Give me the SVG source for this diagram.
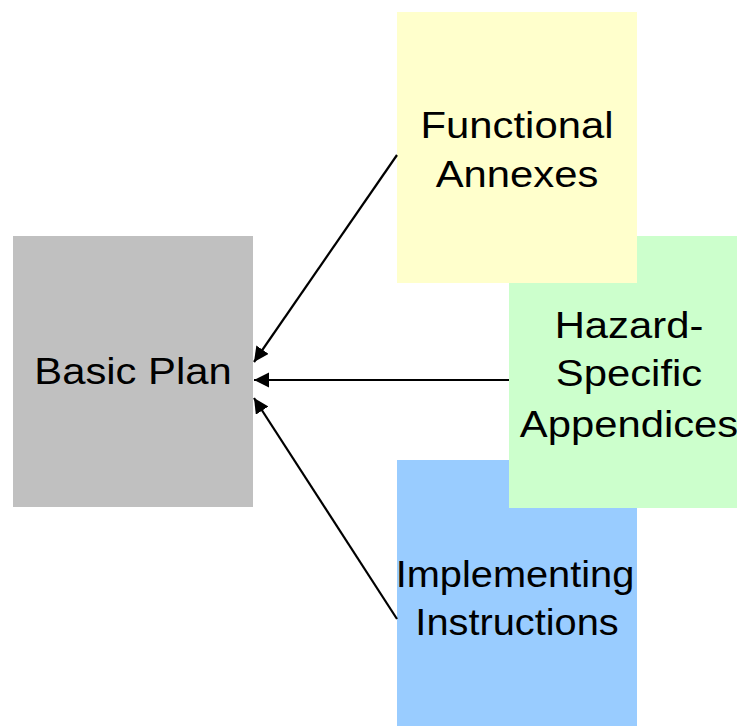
<svg xmlns="http://www.w3.org/2000/svg" width="737" height="726" viewBox="0 0 737 726">
<style>
.lbl{font-family:"Liberation Sans",Arial,sans-serif;font-size:37px;fill:#000;text-anchor:middle}
.conn{stroke:#000;stroke-width:2.2;fill:none;marker-end:url(#ah)}
</style>
<defs>
<marker id="ah" markerUnits="userSpaceOnUse" markerWidth="16" markerHeight="16" refX="15" refY="7.5" orient="auto">
<path d="M0,0 L15,7.5 L0,15 z" fill="#000"/>
</marker>
</defs>
<rect width="737" height="726" fill="#fff"/>
<g id="basic-plan">
<rect x="13" y="236" width="240" height="271" fill="#C0C0C0"/>
<text class="lbl" transform="translate(133,384) scale(1.13,1)">Basic Plan</text>
</g>
<g id="implementing-instructions">
<rect x="397" y="460" width="240" height="266" fill="#99CCFF"/>
<text class="lbl" transform="translate(515,587) scale(1.075,1)">Implementing</text>
<text class="lbl" transform="translate(517,635) scale(1.075,1)">Instructions</text>
</g>
<g id="hazard-specific-appendices">
<rect x="509" y="236" width="228" height="272" fill="#CCFFCC"/>
<text class="lbl" transform="translate(629,338) scale(1.13,1)">Hazard-</text>
<text class="lbl" transform="translate(629,386) scale(1.13,1)">Specific</text>
<text class="lbl" transform="translate(629,437) scale(1.13,1)">Appendices</text>
</g>
<g id="functional-annexes">
<rect x="397" y="12" width="240" height="271" fill="#FFFFCC"/>
<text class="lbl" transform="translate(517,138) scale(1.13,1)">Functional</text>
<text class="lbl" transform="translate(517,187) scale(1.13,1)">Annexes</text>
</g>
<g id="connectors">
<line class="conn" x1="397" y1="155" x2="254" y2="362"/>
<line class="conn" x1="509" y1="380" x2="254" y2="380"/>
<line class="conn" x1="397" y1="619" x2="254" y2="398"/>
</g>
</svg>
